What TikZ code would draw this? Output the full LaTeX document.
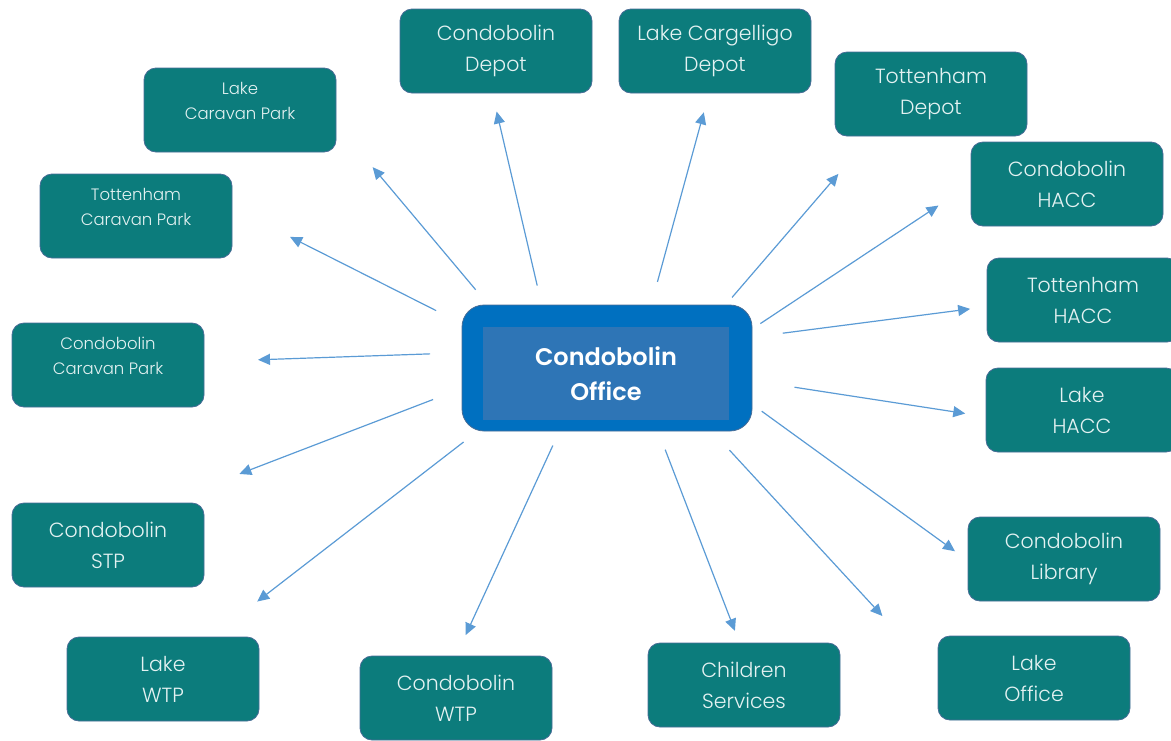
\documentclass[tikz,border=0pt]{standalone}
\usepackage{fontspec}
\setmainfont{Poppins}[UprightFont=* Light, BoldFont=* SemiBold]
\usetikzlibrary{arrows.meta}

\definecolor{tealbox}{RGB}{12,124,124}
\definecolor{boxline}{RGB}{72,108,150}
\definecolor{officeout}{RGB}{0,112,192}
\definecolor{officein}{RGB}{46,117,182}
\definecolor{arrowblue}{RGB}{91,155,213}
\definecolor{boxtext}{RGB}{228,242,242}

\tikzset{
  site/.style={draw=boxline, line width=0.8pt, fill=tealbox, rounded corners=12pt,
    minimum width=192pt, minimum height=84pt, inner sep=0pt, outer sep=0pt,
    align=center, text=boxtext, font=\fontsize{20.5}{31}\selectfont},
  smallsite/.style={site, font=\fontsize{16.5}{25}\selectfont},
  link/.style={draw=arrowblue, line width=1.2pt, -{Triangle[length=12pt,width=11pt]}},
}

\begin{document}
\begin{tikzpicture}[x=1pt,y=-1pt]
    \useasboundingbox (0,0) rectangle (1171,740);

    % Office
    \node[draw=boxline, line width=0.8pt, fill=officeout, rounded corners=22pt,
      minimum width=290pt, minimum height=126pt, inner sep=0pt, outer sep=0pt] (office) at (607,368) {};
    \node[fill=officein, minimum width=246pt, minimum height=93pt, inner sep=0pt,
      align=center, text=white, font=\bfseries\fontsize{24}{35}\selectfont] (officetext) at (606,373.5) {Condobolin\\Office};

    % Sites
    \node[site] (cdepot) at (496,51) {Condobolin\\Depot};
    \node[site] (lcdepot) at (715,51) {Lake Cargelligo\\Depot};
    \node[site] (tdepot) at (931,94) {Tottenham\\Depot};
    \node[site] (chacc) at (1067,184) {Condobolin\\HACC};
    \node[site] (thacc) at (1083,300) {Tottenham\\HACC};
    \node[site] (lhacc) at (1082,410) {Lake\\HACC};
    \node[site] (clib) at (1064,559) {Condobolin\\Library};
    \node[site] (loffice) at (1034,678) {Lake\\Office};
    \node[site] (cserv) at (744,685) {Children\\Services};
    \node[site] (cwtp) at (456,698) {Condobolin\\WTP};
    \node[site] (lwtp) at (163,679) {Lake\\WTP};
    \node[site] (cstp) at (108,545) {Condobolin\\STP};
    \node[smallsite] (ccp) at (108,365) {Condobolin\\Caravan Park\\[-7pt]~};
    \node[smallsite] (tcp) at (136,216) {Tottenham\\Caravan Park\\[-7pt]~};
    \node[smallsite] (lcp) at (240,110) {Lake\\Caravan Park\\[-7pt]~};

    % Links
    \draw[link, shorten <=20pt, shorten >=19pt] (office.136) -- (cdepot.265);
    \draw[link, shorten <=24pt, shorten >=20pt] (office.55) -- (lcdepot.262);
    \draw[link, shorten <=10pt, shorten >=50pt] (office.28) -- (tdepot.215);
    \draw[link, shorten <=10pt, shorten >=39pt] (office.15) -- (chacc.180);
    \draw[link, shorten <=31pt, shorten >=17pt] (office.12) -- (thacc.184);
    \draw[link, shorten <=43pt, shorten >=21pt] (office.355) -- (lhacc.184);
    \draw[link, shorten <=12pt, shorten >=16pt] (office.346) -- (clib.181);
    \draw[link, shorten <=26pt, shorten >=82pt] (office.329) -- (loffice.179);
    \draw[link, shorten <=20pt, shorten >=13pt] (office.309) -- (cserv.96);
    \draw[link, shorten <=16pt, shorten >=23pt] (office.233) -- (cwtp.90);
    \draw[link, shorten <=18pt, shorten >=58pt] (office.206) -- (lwtp.41);
    \draw[link, shorten <=31pt, shorten >=81pt] (office.188) -- (cstp.37);
    \draw[link, shorten <=32pt, shorten >=54pt] (office.174) -- (ccp.2);
    \draw[link, shorten <=29pt, shorten >=65pt] (office.163) -- (tcp.5);
    \draw[link, shorten <=20pt, shorten >=57pt] (office.152) -- (lcp.352);
\end{tikzpicture}
\end{document}
